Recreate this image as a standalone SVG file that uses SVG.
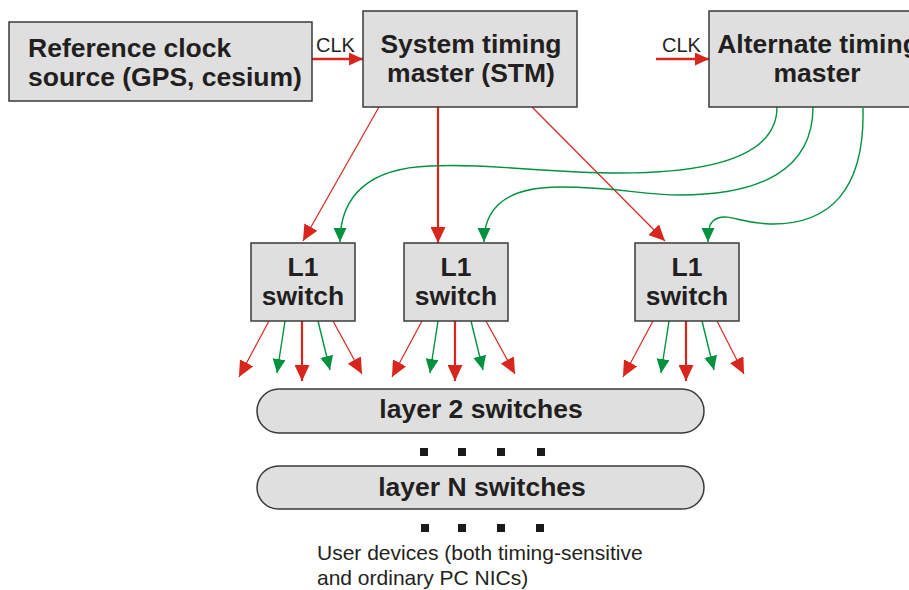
<svg xmlns="http://www.w3.org/2000/svg" width="909" height="590" viewBox="0 0 909 590">
  <style>
    .box { fill: #dfdfdf; stroke: #3a3a3a; stroke-width: 1.5; }
    .lbl { font-family: "Liberation Sans", Arial, sans-serif; font-weight: bold; font-size: 26.5px; fill: #231f20; }
    .txt { font-family: "Liberation Sans", Arial, sans-serif; font-size: 20px; fill: #231f20; }
    .note { font-size: 21px; }
    .red { stroke: #d9261c; fill: none; }
    .thin { stroke-width: 1.2; }
    .thick { stroke-width: 2.2; }
    .grn { stroke: #00923f; fill: none; stroke-width: 1.4; }
    .dot { fill: #1a1a1a; }
  </style>
  <defs>
    <marker id="ahRed" markerUnits="userSpaceOnUse" markerWidth="16" markerHeight="15" refX="16" refY="7.5" orient="auto">
      <path d="M0,0 L16,7.5 L0,15 z" fill="#d9261c"/>
    </marker>
    <marker id="ahClk" markerUnits="userSpaceOnUse" markerWidth="14" markerHeight="13" refX="14" refY="6.5" orient="auto">
      <path d="M0,0 L14,6.5 L0,13 z" fill="#d9261c"/>
    </marker>
    <marker id="ahGrn" markerUnits="userSpaceOnUse" markerWidth="14" markerHeight="13" refX="14" refY="6.5" orient="auto">
      <path d="M0,0 L14,6.5 L0,13 z" fill="#00923f"/>
    </marker>
  </defs>

  <rect width="909" height="590" fill="#ffffff"/>

  <!-- connectors -->
  <g id="connectors">
    <!-- clock inputs -->
    <line class="red" stroke-width="2.4" x1="312" y1="59" x2="363" y2="59" marker-end="url(#ahClk)"/>
    <line class="red" stroke-width="2.4" x1="656" y1="59" x2="709" y2="59" marker-end="url(#ahClk)"/>
    <text class="txt" x="316" y="52">CLK</text>
    <text class="txt" x="662" y="52">CLK</text>

    <!-- STM to L1 switches -->
    <line class="red thin" x1="379" y1="107" x2="303" y2="241" marker-end="url(#ahRed)"/>
    <line class="red thick" x1="438" y1="107" x2="438" y2="243" marker-end="url(#ahRed)"/>
    <line class="red thin" x1="532" y1="107" x2="665" y2="241" marker-end="url(#ahRed)"/>

    <!-- alternate master to L1 switches -->
    <path class="grn" d="M777,107 C777,160 700,173 620,173 C540,173 490,163 430,166 C370,168 340,195 340,242" marker-end="url(#ahGrn)"/>
    <path class="grn" d="M813,107 C813,170 760,195 680,195 C640,195 620,187 560,187 C510,187 484,205 484,242" marker-end="url(#ahGrn)"/>
    <path class="grn" d="M863,108 C865,190 830,225 770,224 C740,223 730,214 718,218 C710,221 708,227 708,242" marker-end="url(#ahGrn)"/>

    <!-- L1 switch fan-out, box 1 (left 251) -->
    <line class="red thin" x1="269" y1="321" x2="239" y2="377" marker-end="url(#ahRed)"/>
    <line class="grn" x1="285" y1="321" x2="277" y2="373" marker-end="url(#ahGrn)"/>
    <line class="red thick" x1="302" y1="321" x2="302" y2="381" marker-end="url(#ahRed)"/>
    <line class="grn" x1="318" y1="321" x2="330" y2="370" marker-end="url(#ahGrn)"/>
    <line class="red thin" x1="333" y1="321" x2="362" y2="374" marker-end="url(#ahRed)"/>

    <!-- box 2 (left 404) -->
    <line class="red thin" x1="422" y1="321" x2="392" y2="377" marker-end="url(#ahRed)"/>
    <line class="grn" x1="438" y1="321" x2="430" y2="373" marker-end="url(#ahGrn)"/>
    <line class="red thick" x1="455" y1="321" x2="455" y2="381" marker-end="url(#ahRed)"/>
    <line class="grn" x1="471" y1="321" x2="483" y2="370" marker-end="url(#ahGrn)"/>
    <line class="red thin" x1="486" y1="321" x2="515" y2="374" marker-end="url(#ahRed)"/>

    <!-- box 3 (left 635) -->
    <line class="red thin" x1="653" y1="321" x2="623" y2="377" marker-end="url(#ahRed)"/>
    <line class="grn" x1="669" y1="321" x2="661" y2="373" marker-end="url(#ahGrn)"/>
    <line class="red thick" x1="686" y1="321" x2="686" y2="381" marker-end="url(#ahRed)"/>
    <line class="grn" x1="702" y1="321" x2="714" y2="370" marker-end="url(#ahGrn)"/>
    <line class="red thin" x1="717" y1="321" x2="744" y2="374" marker-end="url(#ahRed)"/>
  </g>

  <!-- nodes -->
  <g id="ref-clock">
    <rect class="box" x="9" y="22" width="303" height="79"/>
    <text class="lbl" x="28" y="57">Reference clock</text>
    <text class="lbl" x="28" y="86">source (GPS, cesium)</text>
  </g>

  <g id="stm">
    <rect class="box" x="363" y="11" width="214" height="96"/>
    <text class="lbl" x="471" y="53" text-anchor="middle">System timing</text>
    <text class="lbl" x="471" y="82" text-anchor="middle">master (STM)</text>
  </g>

  <g id="alt-master">
    <rect class="box" x="709" y="11" width="214" height="96"/>
    <text class="lbl" x="818" y="53" text-anchor="middle">Alternate timing</text>
    <text class="lbl" x="817" y="82" text-anchor="middle">master</text>
  </g>

  <g id="l1-a">
    <rect class="box" x="251" y="243" width="104" height="78"/>
    <text class="lbl" x="303" y="276" text-anchor="middle">L1</text>
    <text class="lbl" x="303" y="305" text-anchor="middle">switch</text>
  </g>

  <g id="l1-b">
    <rect class="box" x="404" y="243" width="104" height="78"/>
    <text class="lbl" x="456" y="276" text-anchor="middle">L1</text>
    <text class="lbl" x="456" y="305" text-anchor="middle">switch</text>
  </g>

  <g id="l1-c">
    <rect class="box" x="635" y="243" width="104" height="78"/>
    <text class="lbl" x="687" y="276" text-anchor="middle">L1</text>
    <text class="lbl" x="687" y="305" text-anchor="middle">switch</text>
  </g>

  <g id="layer2">
    <rect class="box" x="257" y="389" width="447" height="44" rx="22" ry="22"/>
    <text class="lbl" x="481" y="418" text-anchor="middle">layer 2 switches</text>
  </g>

  <g id="dots-1">
    <rect class="dot" x="420" y="448" width="8" height="8"/>
    <rect class="dot" x="458" y="448" width="8" height="8"/>
    <rect class="dot" x="497" y="448" width="8" height="8"/>
    <rect class="dot" x="537" y="448" width="8" height="8"/>
  </g>

  <g id="layerN">
    <rect class="box" x="257" y="466" width="447" height="43" rx="21.5" ry="21.5"/>
    <text class="lbl" x="482" y="496" text-anchor="middle">layer N switches</text>
  </g>

  <g id="dots-2">
    <rect class="dot" x="421" y="524" width="8" height="8"/>
    <rect class="dot" x="458" y="524" width="8" height="8"/>
    <rect class="dot" x="497" y="524" width="8" height="8"/>
    <rect class="dot" x="536" y="524" width="8" height="8"/>
  </g>

  <g id="user-devices">
    <text class="txt note" x="317" y="560">User devices (both timing-sensitive</text>
    <text class="txt note" x="317" y="585">and ordinary PC NICs)</text>
  </g>
</svg>
